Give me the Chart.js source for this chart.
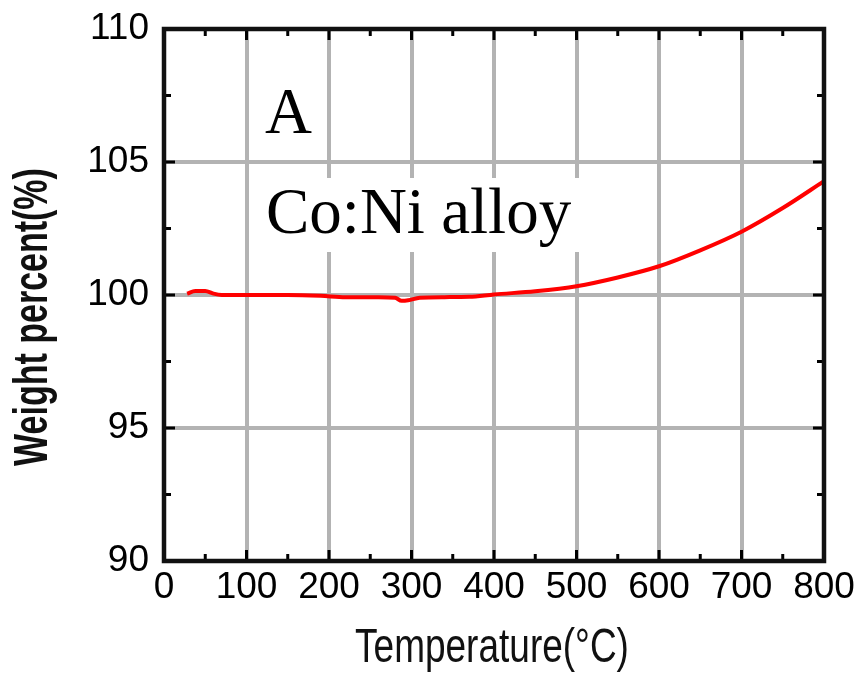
<!DOCTYPE html>
<html>
<head>
<meta charset="utf-8">
<title>Co:Ni alloy TGA</title>
<script src="https://cdn.jsdelivr.net/npm/chart.js@4/dist/chart.umd.min.js"></script>
<style>
  html, body { margin: 0; padding: 0; background: #ffffff; }
  #wrap { width: 857px; height: 673px; }
</style>
</head>
<body>
<div id="wrap"><canvas id="tga" width="857" height="673"></canvas></div>
<script>
// Thermogravimetric trace of the Co:Ni alloy
const temperatureC = [28, 38, 50, 60, 70, 100, 150, 190, 220, 260, 280, 288, 296, 310, 340, 370, 400, 450, 500, 550, 600, 650, 700, 750, 800];
const weightPercent = [100.05, 100.15, 100.15, 100.05, 100.0, 100.0, 100.0, 99.97, 99.92, 99.92, 99.9, 99.78, 99.8, 99.9, 99.92, 99.93, 100.02, 100.14, 100.33, 100.66, 101.08, 101.68, 102.38, 103.27, 104.28];

const xTicks = [0, 100, 200, 300, 400, 500, 600, 700, 800];
const yTicks = [90, 95, 100, 105, 110];
const xMinorTicks = [50, 150, 250, 350, 450, 550, 650, 750];
const yMinorTicks = [92.5, 97.5, 102.5, 107.5];

const panelLetter = 'A';
const sampleName = 'Co:Ni alloy';
const xTitle = 'Temperature(\u00B0C)';
const yTitle = 'Weight percent(%)';

const points = temperatureC.map((t, i) => ({ x: t, y: weightPercent[i] }));

const tickFont = { family: '"Liberation Sans", Arial, sans-serif', size: 37 };

// White-backed sample labels inside the plot (under the trace, over the grid)
const labelPlugin = {
  id: 'panelLabels',
  beforeDatasetsDraw(chart) {
    const { ctx, chartArea: a } = chart;
    ctx.save();
    ctx.fillStyle = '#ffffff';
    ctx.fillRect(a.left + 98, a.top + 149, 326, 74);
    ctx.fillStyle = '#000000';
    ctx.font = '65px "Liberation Serif", "Times New Roman", serif';
    ctx.textAlign = 'left';
    ctx.textBaseline = 'alphabetic';
    ctx.fillText(panelLetter, a.left + 101, a.top + 104);
    ctx.fillText(sampleName, a.left + 102, a.top + 204);
    ctx.restore();
  }
};

// Frame, inward tick marks on all four sides, and axis titles
const framePlugin = {
  id: 'frameTicks',
  afterDraw(chart) {
    const { ctx, chartArea: a, scales } = chart;
    const xs = scales.x, ys = scales.y;
    ctx.save();
    ctx.strokeStyle = '#000000';
    ctx.lineWidth = 3;
    const tick = (x1, y1, x2, y2) => { ctx.beginPath(); ctx.moveTo(x1, y1); ctx.lineTo(x2, y2); ctx.stroke(); };
    const major = 11, minor = 7;
    xTicks.forEach(v => {
      const px = xs.getPixelForValue(v);
      tick(px, a.bottom, px, a.bottom - major);
      tick(px, a.top, px, a.top + major);
    });
    xMinorTicks.forEach(v => {
      const px = xs.getPixelForValue(v);
      tick(px, a.bottom, px, a.bottom - minor);
      tick(px, a.top, px, a.top + minor);
    });
    yTicks.forEach(v => {
      const py = ys.getPixelForValue(v);
      tick(a.left, py, a.left + major, py);
      tick(a.right, py, a.right - major, py);
    });
    yMinorTicks.forEach(v => {
      const py = ys.getPixelForValue(v);
      tick(a.left, py, a.left + minor, py);
      tick(a.right, py, a.right - minor, py);
    });
    ctx.lineWidth = 4.5;
    ctx.strokeStyle = '#111111';
    ctx.strokeRect(a.left, a.top, a.right - a.left, a.bottom - a.top);

    ctx.fillStyle = '#111111';
    // x axis title
    ctx.save();
    ctx.translate((a.left + a.right) / 2 - 2, 662);
    ctx.scale(1, 1.3);
    ctx.font = '37px "Liberation Sans", Arial, sans-serif';
    ctx.textAlign = 'center';
    ctx.textBaseline = 'alphabetic';
    ctx.fillText(xTitle, 0, 0);
    ctx.restore();
    // y axis title
    ctx.save();
    ctx.translate(34, 317);
    ctx.rotate(-Math.PI / 2);
    ctx.scale(1, 1.4);
    ctx.font = 'bold 34px "Liberation Sans", Arial, sans-serif';
    ctx.textAlign = 'center';
    ctx.textBaseline = 'middle';
    ctx.fillText(yTitle, 0, 0);
    ctx.restore();
    ctx.restore();
  }
};

new Chart(document.getElementById('tga'), {
  type: 'line',
  data: {
    datasets: [{
      data: points,
      borderColor: '#ff0000',
      borderWidth: 4,
      pointRadius: 0,
      fill: false,
      cubicInterpolationMode: 'monotone'
    }]
  },
  options: {
    responsive: false,
    animation: false,
    devicePixelRatio: 1,
    layout: { padding: { left: 0, right: 33, top: 29, bottom: 0 } },
    plugins: { legend: { display: false }, tooltip: { enabled: false } },
    scales: {
      x: {
        type: 'linear',
        min: 0, max: 800,
        afterBuildTicks(scale) { scale.ticks = xTicks.map(v => ({ value: v })); },
        afterFit(scale) {
          scale.height = 112;
          scale.paddingLeft = 0;
          scale.paddingRight = 0;
        },
        ticks: { font: tickFont, color: '#000000', padding: 5, maxRotation: 0, autoSkip: false },
        grid: { color: '#b3b3b3', lineWidth: 4, drawTicks: false },
        border: { display: false }
      },
      y: {
        type: 'linear',
        min: 90, max: 110,
        afterBuildTicks(scale) { scale.ticks = yTicks.map(v => ({ value: v })); },
        afterFit(scale) {
          scale.width = 164;
          scale.paddingTop = 0;
          scale.paddingBottom = 0;
        },
        ticks: { font: tickFont, color: '#000000', padding: 15, autoSkip: false },
        grid: { color: '#b3b3b3', lineWidth: 4, drawTicks: false },
        border: { display: false }
      }
    }
  },
  plugins: [labelPlugin, framePlugin]
});
</script>
</body>
</html>
